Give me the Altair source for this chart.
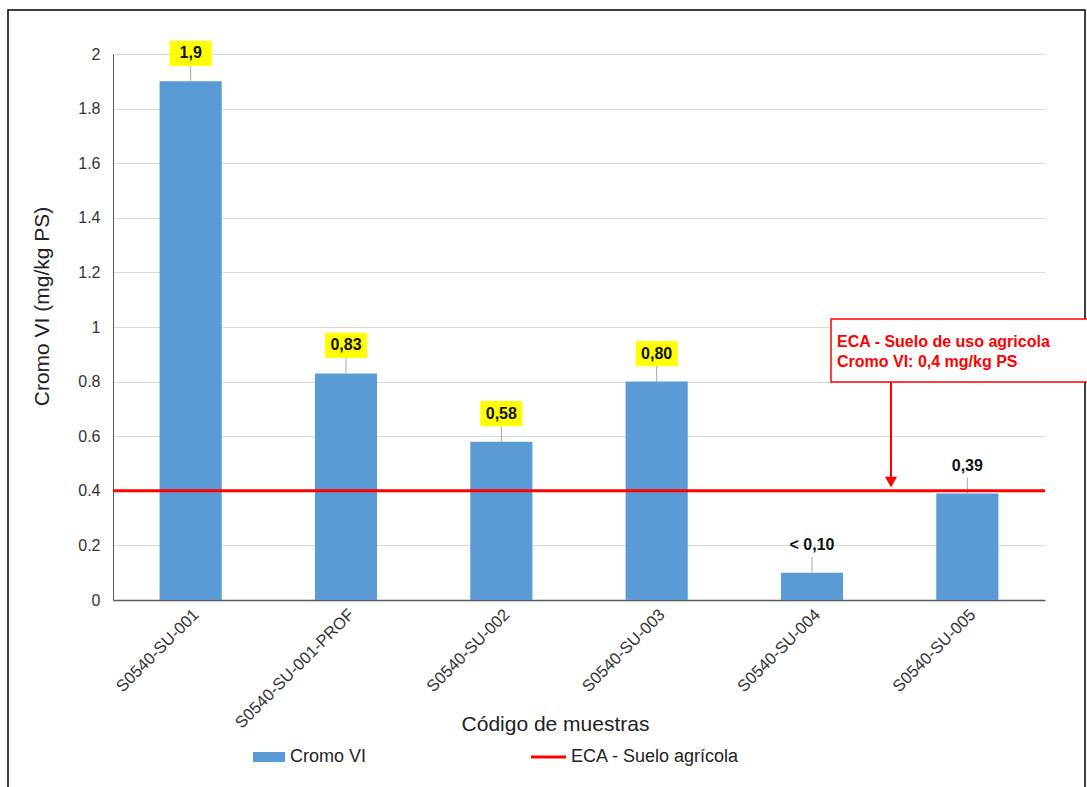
import altair as alt
import pandas as pd

samples = ["S0540-SU-001", "S0540-SU-001-PROF", "S0540-SU-002",
           "S0540-SU-003", "S0540-SU-004", "S0540-SU-005"]
values = [1.9, 0.83, 0.58, 0.80, 0.10, 0.39]
labels = ["1,9", "0,83", "0,58", "0,80", "< 0,10", "0,39"]
limit = 0.4
y_ticks = [0, 0.2, 0.4, 0.6, 0.8, 1.0, 1.2, 1.4, 1.6, 1.8, 2.0]
note_lines = ["ECA  - Suelo de uso agricola", "Cromo VI: 0,4 mg/kg PS"]
legend_names = ["Cromo VI", "ECA - Suelo agrícola"]

BLUE = "#5B9BD5"
RED = "#FF0000"
FONT = "Liberation Sans"

df = pd.DataFrame({"sample": samples, "value": values, "label": labels})
df["over"] = df["value"] > limit

W, H = 932, 546

x_enc = alt.X("sample:N", sort=samples,
              scale=alt.Scale(paddingInner=0.6, paddingOuter=0.3),
              axis=alt.Axis(title="Código de muestras", labelAngle=-45,
                            labelFontSize=16.5, labelColor="#333333",
                            labelFont=FONT, ticks=False, labelPadding=6,
                            domainColor="#595959", domainWidth=1.5,
                            titleFontSize=21, titleFont=FONT,
                            titleFontWeight="normal", titleColor="#222222",
                            titleX=442, titleAlign="center",
                            titleY=124, titleBaseline="middle"))
y_scale = alt.Scale(domain=[0, 2], nice=False)

base = alt.Chart(df)

bars = base.mark_bar(color=BLUE).encode(
    x=x_enc,
    y=alt.Y("value:Q", scale=y_scale,
            axis=alt.Axis(title="Cromo VI (mg/kg PS)", values=y_ticks,
                          format=".1~f", grid=True, gridColor="#d9d9d9",
                          ticks=False, labelPadding=13, labelFontSize=16,
                          labelFont=FONT, labelColor="#333333",
                          domainColor="#595959", domainWidth=1,
                          titleFontSize=21, titleFont=FONT,
                          titleFontWeight="normal", titleColor="#222222",
                          titleX=-71, titleY=252, titleAlign="center",
                          titleBaseline="middle")),
)

leaders = base.mark_rule(color="#a6a6a6", strokeWidth=1, y2Offset=-16).encode(
    x=alt.X("sample:N", sort=samples),
    y=alt.Y("value:Q", scale=y_scale),
    y2="value:Q",
)

boxes = base.transform_filter("datum.over").mark_point(
    shape="M-1,-0.6L1,-0.6L1,0.6L-1,0.6Z", filled=True, fill="#FFFF00",
    opacity=1, size=1764, yOffset=-28, strokeWidth=0,
).encode(
    x=alt.X("sample:N", sort=samples),
    y=alt.Y("value:Q", scale=y_scale),
)

texts = base.mark_text(fontSize=16, fontWeight="bold", font=FONT,
                       color="#111111", yOffset=-28, baseline="middle").encode(
    x=alt.X("sample:N", sort=samples),
    y=alt.Y("value:Q", scale=y_scale),
    text="label:N",
)

limit_df = pd.DataFrame({"limit": [limit]})
limit_line = alt.Chart(limit_df).mark_rule(color=RED, strokeWidth=3).encode(
    y=alt.Y("limit:Q", scale=y_scale)
)

one = pd.DataFrame({"k": [0]})
note_box = alt.Chart(one).mark_rect(fill="white", stroke=RED,
                                    strokeWidth=1.5).encode(
    x=alt.value(718), x2=alt.value(976), y=alt.value(265), y2=alt.value(328))
note_df = pd.DataFrame({"line": note_lines})
note_text1 = alt.Chart(note_df.iloc[[0]]).mark_text(
    color=RED, fontSize=16, fontWeight="bold", font=FONT, align="left",
    baseline="middle").encode(x=alt.value(724), y=alt.value(288), text="line:N")
note_text2 = alt.Chart(note_df.iloc[[1]]).mark_text(
    color=RED, fontSize=16, fontWeight="bold", font=FONT, align="left",
    baseline="middle").encode(x=alt.value(724), y=alt.value(308), text="line:N")
arrow_line = alt.Chart(one).mark_rule(color=RED, strokeWidth=2).encode(
    x=alt.value(778), y=alt.value(328), y2=alt.value(424))
arrow_head = alt.Chart(one).mark_point(shape="triangle-down", filled=True,
                                       color=RED, opacity=1, size=150).encode(
    x=alt.value(778), y=alt.value(428))

leg_swatch = alt.Chart(one).mark_rect(color=BLUE).encode(
    x=alt.value(140), x2=alt.value(172), y=alt.value(698), y2=alt.value(708))
leg_line = alt.Chart(one).mark_rule(color=RED, strokeWidth=3).encode(
    x=alt.value(418), x2=alt.value(453), y=alt.value(703))
leg_df = pd.DataFrame({"name": legend_names})
leg_text1 = alt.Chart(leg_df.iloc[[0]]).mark_text(
    fontSize=18, font=FONT, align="left", baseline="middle",
    color="#222222").encode(x=alt.value(177), y=alt.value(703), text="name:N")
leg_text2 = alt.Chart(leg_df.iloc[[1]]).mark_text(
    fontSize=18, font=FONT, align="left", baseline="middle",
    color="#222222").encode(x=alt.value(458), y=alt.value(703), text="name:N")

frame = alt.Chart(one).mark_rect(fill=None, stroke="black", strokeWidth=1.5).encode(
    x=alt.value(-105), x2=alt.value(972), y=alt.value(-44), y2=alt.value(760))

chart = alt.layer(
    frame, bars, leaders, boxes, texts, limit_line, note_box, note_text1,
    note_text2, arrow_line, arrow_head, leg_swatch, leg_line, leg_text1,
    leg_text2,
).properties(
    width=W, height=H,
    autosize=alt.AutoSizeParams(type="none"),
    padding={"left": 113, "top": 54, "right": 42, "bottom": 187},
    background="white",
).configure_view(stroke=None)

chart.save("out.html", embed_options={"renderer": "svg", "actions": False})
